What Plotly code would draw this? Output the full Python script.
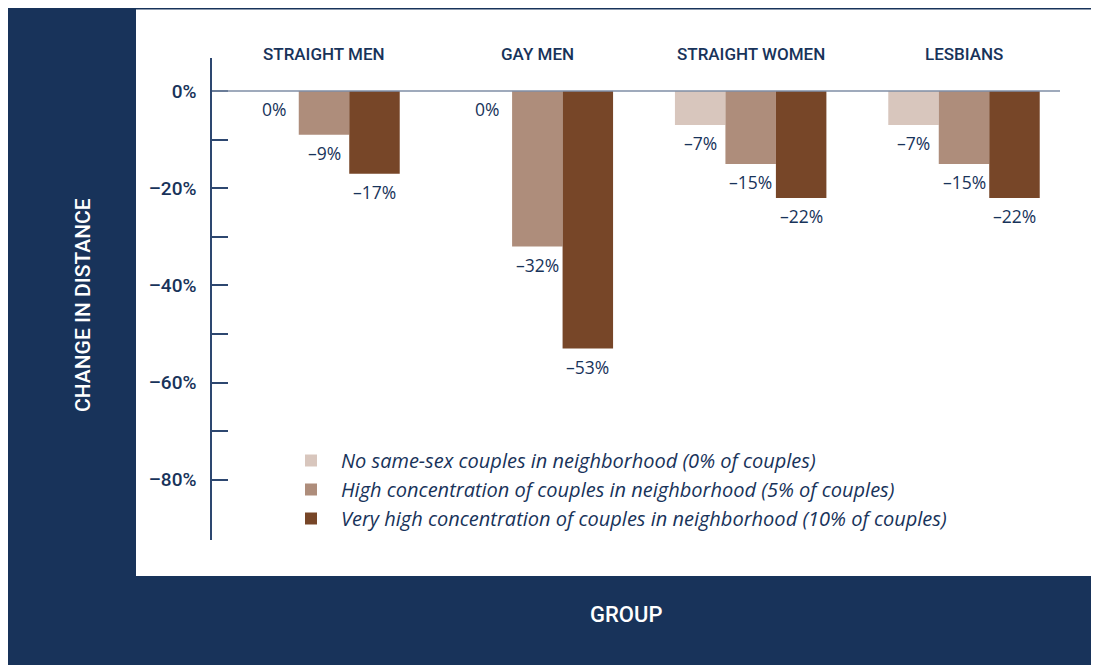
import plotly.graph_objects as go

groups = ["STRAIGHT MEN", "GAY MEN", "STRAIGHT WOMEN", "LESBIANS"]
series_names = [
    "No same-sex couples in neighborhood (0% of couples)",
    "High concentration of couples in neighborhood (5% of couples)",
    "Very high concentration of couples in neighborhood (10% of couples)",
]
none_vals = [0, 0, -7, -7]
high_vals = [-9, -32, -15, -15]
very_high_vals = [-17, -53, -22, -22]
y_tickvals = [0, -10, -20, -30, -40, -50, -60, -70, -80]
y_ticktext = ["0%", "", "–20%", "", "–40%", "", "–60%", "", "–80%"]

colors = ["#d8c6bd", "#ae8d7b", "#774628"]
NAVY = "#18335a"
COND = "Roboto, sans-serif"
LIGHT = "Open Sans, Lato, sans-serif"

W, H = 1088, 658
L, R, T, B = 204, 36, 50, 126
PW, PH = W - L - R, H - T - B
BARGAP = 0.29
BW = (1 - BARGAP) / 3


def px(x):
    return (x - L) / PW


def py(y):
    return (H - B - y) / PH


def lab(v):
    return "0%" if v == 0 else "–%d%%" % abs(v)


fig = go.Figure()
annotations = []
for i, (name, vals, c) in enumerate(zip(series_names, [none_vals, high_vals, very_high_vals], colors)):
    fig.add_trace(go.Bar(
        x=list(range(len(groups))), y=vals, name=name, marker_color=c,
        marker_line_width=0,
    ))
    for j, v in enumerate(vals):
        annotations.append(dict(
            x=j + (i - 1) * BW, y=v, xref="x", yref="y", text=lab(v),
            showarrow=False, xanchor="center", yanchor="top", yshift=-4,
            font=dict(family=LIGHT, size=17.5, color=NAVY)))

for j, g in enumerate(groups):
    annotations.append(dict(
        x=j, y=py(46), xref="x", yref="paper", text=g, showarrow=False,
        xanchor="center", yanchor="middle",
        font=dict(family=COND, size=17, color=NAVY, weight=500)))

annotations += [
    dict(text="CHANGE IN DISTANCE", xref="paper", yref="paper",
         x=px(75), y=py(297), textangle=-90, showarrow=False,
         xanchor="center", yanchor="middle",
         font=dict(family=COND, size=21, color="white", weight=500)),
    dict(text="GROUP", xref="paper", yref="paper",
         x=px(618), y=py(606), showarrow=False,
         xanchor="center", yanchor="middle",
         font=dict(family=COND, size=22, color="white", weight=500)),
]

fig.update_layout(
    width=W, height=H, autosize=False,
    margin=dict(l=L, r=R, t=T, b=B),
    paper_bgcolor=NAVY, plot_bgcolor="white",
    barmode="group", bargap=BARGAP, bargroupgap=0,
    showlegend=True,
    legend=dict(x=px(273), y=py(433), xanchor="left", yanchor="top",
                bgcolor="rgba(0,0,0,0)",
                font=dict(family=LIGHT, size=20, color=NAVY, style="italic"),
                itemwidth=50, tracegroupgap=0),
    xaxis=dict(range=[-0.525, 3.45], tickvals=list(range(4)),
               showticklabels=False, ticks="", showgrid=False, zeroline=False,
               showline=False),
    yaxis=dict(range=[-92.4, 6.8], tickvals=y_tickvals, ticktext=y_ticktext,
               ticks="inside", ticklen=16, tickwidth=1.5, tickcolor="#2d4770",
               showline=True, linecolor="#2d4770", linewidth=1.5,
               showgrid=False, zeroline=False, ticklabelstandoff=10,
               tickfont=dict(family=COND, size=19, color=NAVY, weight=500)),
    shapes=[
        dict(type="rect", xref="paper", yref="paper", x0=px(128), x1=px(1086),
             y0=py(568), y1=py(1.5), fillcolor="white", line=dict(width=0),
             layer="below"),
        dict(type="line", xref="paper", yref="y", x0=0, x1=px(1052), y0=0, y1=0,
             line=dict(color="#7f8ea6", width=1.5), layer="above"),
    ],
    annotations=annotations,
)

fig.write_html("out.html")
